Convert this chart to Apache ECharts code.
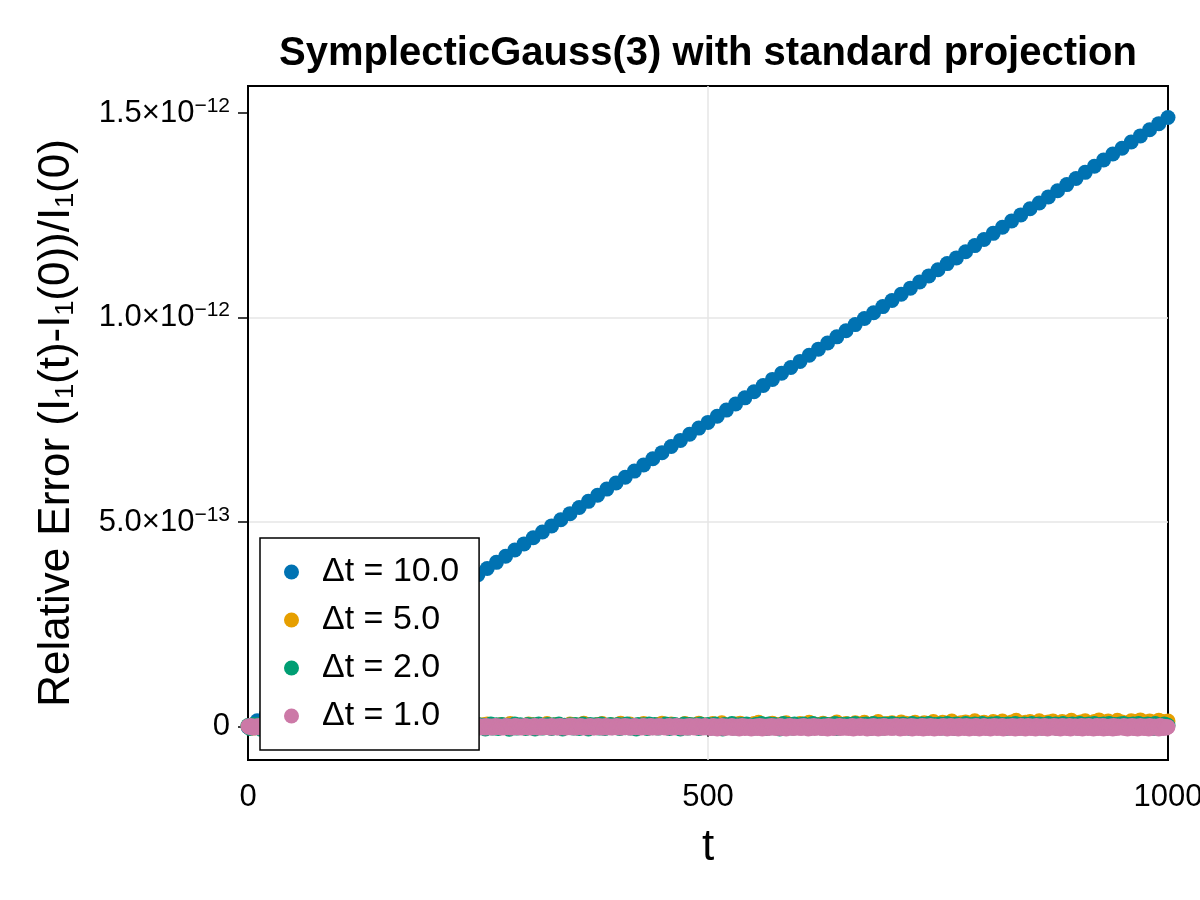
<!DOCTYPE html>
<html lang="en">
<head>
    <meta charset="UTF-8">
    <title>SymplecticGauss(3) projection error</title>
    <script src="https://cdn.jsdelivr.net/npm/echarts@6.0.0/dist/echarts.min.js"></script>
    <style>
        body { margin: 0; background: #fff; }
    </style>
</head>
<body>
    <div id="chart" style="width: 1200px; height: 900px;"></div>
    <script type="text/javascript">
        // relative error values are stored in units of 1e-15
        const seriesNames = ['Δt = 10.0', 'Δt = 5.0', 'Δt = 2.0', 'Δt = 1.0'];
        const stepSizes = [10, 5, 2, 1];
        const colors = ['#0072B2', '#E69F00', '#009E73', '#CC79A7'];

        const err10 = [
            0, 15, 30, 45, 60, 74, 89, 104, 119, 134, 149, 164, 179, 194, 208, 223, 238, 253, 268, 283,
            298, 313, 328, 342, 357, 372, 387, 402, 417, 432, 447, 462, 476, 491, 506, 521, 536, 551, 566, 581,
            596, 610, 625, 640, 655, 670, 685, 700, 715, 730, 744, 759, 774, 789, 804, 819, 834, 849, 864, 878,
            893, 908, 923, 938, 953, 968, 983, 998, 1012, 1027, 1042, 1057, 1072, 1087, 1102, 1117, 1132, 1146, 1161, 1176,
            1191, 1206, 1221, 1236, 1251, 1266, 1280, 1295, 1310, 1325, 1340, 1355, 1370, 1385, 1400, 1414, 1429, 1444, 1459, 1474,
            1489
        ];

        const err5 = [
            2,-3,4,1,-1,5,0,3,-2,6,1,-4,3,5,0,-2,4,2,-1,6,3,0,-3,5,2,
            4,-1,6,2,0,5,-3,3,7,1,-2,4,6,0,3,-1,7,2,5,-2,4,8,1,3,6,
            0,5,7,2,-1,6,4,8,1,3,-2,7,5,0,4,8,2,6,-1,3,7,5,1,9,4,
            2,6,8,0,5,3,9,-1,7,4,2,8,6,1,5,9,3,7,0,4,8,6,2,9,5,
            3,8,6,10,1,5,7,9,2,4,8,11,6,3,9,5,7,10,2,6,8,4,11,7,5,
            9,3,7,12,6,8,4,10,7,11,5,9,13,6,8,10,4,12,9,7,11,5,10,8,13,
            7,11,9,14,6,10,12,8,15,9,11,7,13,10,14,8,12,16,9,11,13,7,15,10,12,
            14,9,13,11,16,10,12,15,8,13,17,11,14,10,16,12,9,15,13,17,11,14,12,16,13,
            14
        ];

        const err2 = [
            3,-4,1,6,-2,0,5,-6,2,-1,4,-3,0,7,-5,1,3,-2,6,-4,0,2,-6,5,-1,
            1,-3,4,0,-5,6,-2,3,-1,5,-4,0,2,-6,4,1,-3,6,-1,0,3,-5,2,5,-2,
            0,4,-3,6,-1,2,-5,3,0,7,-2,-4,4,1,-6,5,0,-2,3,6,-4,1,-1,5,-3,
            2,-5,6,0,-2,4,-4,7,1,-3,3,0,-6,5,2,-1,4,-5,0,6,-2,3,-4,1,5,
            -1,6,-3,2,4,-6,0,5,-2,3,-4,7,1,-1,4,-5,2,6,-3,0,5,-2,-4,3,1,
            6,-2,0,4,-5,3,1,7,-3,-1,5,-4,2,6,0,-2,4,-6,3,1,7,-3,0,5,-1,
            2,-4,6,1,-2,5,-5,3,7,0,-3,4,-1,6,2,-4,5,0,-2,7,1,-5,4,3,-1,
            5,0,-3,6,2,-4,4,7,-1,1,-5,6,3,-2,5,0,-3,7,2,-4,4,1,6,-2,0,
            3,6,-4,1,5,-2,7,0,-3,4,2,-5,6,1,-1,5,3,-4,7,0,-2,6,2,-3,4,
            1,-1,7,3,-4,5,0,6,-2,2,-5,4,7,1,-3,6,0,-1,5,3,-4,7,2,0,-2,
            6,1,-3,5,7,-2,3,0,-5,6,4,-1,2,8,-3,5,1,-4,6,3,0,7,-2,4,1,
            -3,6,5,0,8,-1,3,-4,7,2,-2,6,4,0,-5,5,8,1,-1,6,3,-3,7,2,0,
            5,-2,7,4,1,-4,6,8,0,-1,5,3,-3,7,2,6,-2,4,1,8,-4,5,0,6,3,
            -1,7,2,5,-3,8,1,4,-2,6,0,7,3,-4,5,8,1,-1,6,4,-3,7,2,5,0,
            8,-2,4,6,1,-3,7,5,0,3,-4,8,2,6,-1,4,7,0,-3,5,8,2,-2,6,4,
            1,7,-3,5,3,8,-1,6,2,-4,7,4,0,5,-2,8,3,6,-1,1,7,-3,5,4,8,
            0,6,2,-3,7,5,1,8,-2,4,6,0,-4,7,3,5,-1,8,2,6,-3,4,7,1,5,
            -2,8,3,6,0,7,-3,5,4,1,8,-1,6,2,7,-4,5,3,8,0,6,-2,4,7,1,
            5,-3,8,2,6,4,-1,7,0,5,8,-2,3,6,1,7,-4,5,8,2,-1,6,4,0,7,
            3,8,-2,6,5,1,7,-3,4,8,0,6,2,-1,7,5,3,-4,8,6,1,4,-2,7,5,
            3
        ];

        const err1 = [
            2,-1,0,3,-2,1,-3,0,2,-1,1,-2,3,0,-1,2,-3,1,0,-2,2,1,-1,0,3,
            -2,0,1,-3,2,-1,0,3,-2,1,-1,2,0,-3,1,2,-1,0,-2,3,1,-1,0,2,-3,
            1,0,-2,2,-1,3,0,-1,1,-3,2,0,-2,1,3,-1,0,2,-2,1,-1,0,3,-2,1,
            0,-1,2,-3,1,0,2,-2,3,-1,0,1,-2,2,-1,3,0,-3,1,-1,2,0,-2,1,3,
            -1,2,0,-2,1,-3,3,0,-1,2,1,-2,0,3,-1,-2,1,0,2,-3,1,-1,3,0,-2,
            2,-2,1,0,-1,3,-3,1,2,0,-1,-2,3,1,0,-3,2,-1,1,0,-2,3,-1,2,0,
            -3,1,0,2,-1,1,-2,3,0,-1,2,-3,1,0,2,-2,-1,3,1,0,-2,2,-1,1,-3,
            0,2,-1,3,-2,0,1,-1,2,-3,3,0,-2,1,-1,2,0,-3,1,2,-1,0,-2,3,1,
            -2,1,3,-1,0,-3,2,1,-2,0,1,3,-1,-2,2,0,-3,1,0,2,-1,3,-2,0,1,
            1,-3,2,0,-1,2,-2,1,3,-1,0,-2,1,2,-3,0,3,-1,1,-2,0,2,-1,1,-3,
            3,0,-2,1,-1,2,0,-3,1,3,-2,0,1,-1,2,-3,0,1,-2,3,1,-1,0,2,-2,
            0,1,-3,2,-1,0,3,-2,1,-1,2,0,-3,1,2,-1,3,0,-2,1,-1,2,-3,0,1,
            -1,3,0,-2,2,-1,1,-3,0,2,1,-2,3,-1,0,1,-3,2,0,-1,3,-2,1,0,-1,
            2,-1,0,1,-3,3,0,-2,1,-1,2,0,-3,1,3,-2,-1,2,0,1,-3,2,-1,0,3,
            -2,1,-1,3,0,-3,2,1,-2,0,-1,3,1,-2,2,0,-3,1,-1,2,0,-2,3,1,-1,
            0,-3,2,1,-1,0,3,-2,1,-1,2,-3,0,1,3,-2,0,-1,2,1,-3,0,2,-1,1,
            -2,3,0,-1,1,-3,2,0,-2,1,3,-1,0,-2,2,1,-3,0,1,-1,3,-2,0,2,-1,
            1,0,-3,2,-1,3,-2,0,1,-1,2,0,-3,3,1,-2,0,-1,2,-3,1,0,3,-2,-1,
            2,-1,1,0,-3,2,1,-2,3,0,-1,1,-3,2,0,-2,3,-1,1,0,-2,2,-3,1,0,
            -1,2,0,-3,1,3,-2,0,-1,2,1,-3,0,3,-1,1,-2,2,0,-3,1,-1,3,0,-2,
            1,-2,0,-4,2,-1,3,-3,0,1,-5,2,-1,0,-3,3,-2,1,-4,0,2,-1,-3,1,0,
            -2,3,-4,0,1,-1,-3,2,0,-5,1,-2,3,-1,0,-4,2,-3,1,0,-2,2,-5,1,-1,
            0,-3,2,-1,-4,1,3,-2,0,-5,2,-1,1,-3,0,2,-4,1,-2,3,-1,0,-3,2,-4,
            1,-2,0,3,-4,-1,2,-3,1,0,-5,2,-1,-3,3,0,-2,1,-4,2,-1,0,-3,1,-2,
            2,-4,0,-1,3,-3,1,-2,0,-5,2,1,-3,0,-1,3,-4,1,-2,0,2,-3,-1,1,-4,
            0,2,-3,-1,1,-5,3,-2,0,-1,2,-4,1,0,-3,2,-2,-1,3,-4,0,1,-3,2,-1,
            -3,1,0,-4,2,-1,-2,3,-5,0,1,-3,2,-1,0,-4,3,-2,1,-1,-3,2,0,-5,1,
            -1,2,-3,0,-4,3,-2,1,-1,0,-5,2,-3,1,0,-2,3,-4,-1,2,0,-3,1,-2,2,
            -4,0,1,-2,3,-3,-1,2,0,-5,1,-2,3,-1,-4,0,2,-3,1,-1,-2,3,-5,0,1,
            2,-3,0,-1,-4,2,1,-2,3,-5,0,-1,2,-3,1,-4,0,3,-2,-1,1,-5,2,0,-3,
            0,1,-4,2,-2,-1,3,-3,0,1,-5,2,-1,-2,3,0,-4,1,-3,2,-1,0,-5,3,-2,
            1,-3,2,0,-4,-1,3,-2,1,-5,0,2,-3,-1,1,-4,3,0,-2,2,-5,1,-1,0,-3,
            3,-2,-4,1,0,-1,2,-5,-3,1,0,3,-2,-1,-4,2,0,-3,1,-2,3,-5,0,1,-1,
            -2,2,0,-4,1,-3,3,-1,0,-5,2,-2,1,-4,0,3,-1,-3,2,0,-5,1,-2,3,-1,
            0,-4,2,-1,1,-3,-5,3,0,-2,1,-1,2,-4,0,-3,3,1,-2,-5,0,2,-1,-3,1,
            -1,3,-3,0,-4,2,-2,1,-5,0,3,-1,-3,2,1,-4,0,-2,3,-5,1,0,-1,2,-3,
            2,-1,-4,0,1,-3,3,-5,-2,0,2,-1,1,-4,3,-3,0,-2,1,-5,2,0,-1,3,-4,
            -3,1,0,-2,3,-5,-1,2,0,-4,1,-3,2,-1,0,-5,3,-2,1,-4,0,2,-3,-1,1,
            0,-2,3,-4,1,-1,-5,2,0,-3,1,3,-2,-4,0,2,-1,-5,1,-3,3,0,-2,1,-4,
            2,-3,0,-1,-5,3,1,-4,0,-2,2,-1,-3,1,0,-5,3,-2,-1,2,-4,0,1,-3,-1,
            0
        ];

        const xTicks = [0, 500, 1000];
        const yTickValues = [0, 500, 1000, 1500];
        const yTickMantissa = ['0', '5.0×10', '1.0×10', '1.5×10'];
        const yTickExponent = ['', '−13', '−12', '−12'];

        const allErrors = [err10, err5, err2, err1];

        const FONT = '"Liberation Sans", Arial, sans-serif';

        let chart = echarts.init(document.getElementById('chart'), null, { renderer: 'canvas' });

        chart.setOption({
            animation: false,
            backgroundColor: '#ffffff',
            textStyle: { fontFamily: FONT, color: '#000' },
            title: {
                text: 'SymplecticGauss(3) with standard projection',
                left: 708,
                textAlign: 'center',
                top: 34,
                padding: 0,
                textStyle: { fontFamily: FONT, fontSize: 40, fontWeight: 'bold', color: '#000' }
            },
            grid: {
                left: 248, right: 32, top: 86, bottom: 140,
                show: true, borderColor: '#000', borderWidth: 2,
                containLabel: false,
                outerBoundsMode: 'none'
            },
            legend: {
                orient: 'vertical',
                left: 260, top: 538,
                data: seriesNames,
                icon: 'circle',
                itemWidth: 15, itemHeight: 15,
                itemGap: 12,
                padding: [16, 20, 16, 24],
                backgroundColor: '#fff',
                borderColor: '#000',
                borderWidth: 1.5,
                textStyle: { fontFamily: FONT, fontSize: 34, lineHeight: 36, color: '#000', padding: [0, 0, 0, 18] }
            },
            xAxis: {
                type: 'value',
                min: 0, max: 1000, interval: 500,
                name: 't',
                nameLocation: 'middle',
                nameGap: 66,
                nameTextStyle: { fontFamily: FONT, fontSize: 44, color: '#000' },
                axisLine: { show: true, lineStyle: { color: '#000', width: 2 } },
                axisTick: { show: true, length: 10, lineStyle: { color: '#000', width: 1.5 } },
                axisLabel: {
                    fontFamily: FONT, fontSize: 31, color: '#000', margin: 22,
                    formatter: v => xTicks.indexOf(v) >= 0 ? String(v) : ''
                },
                splitLine: { show: true, showMinLine: false, showMaxLine: false, lineStyle: { color: '#e6e6e6', width: 1.5 } }
            },
            yAxis: {
                type: 'value',
                min: -81, max: 1566, splitNumber: 3,
                name: 'Relative Error (I₁(t)-I₁(0))/I₁(0)',
                nameLocation: 'middle',
                nameGap: 169,
                nameTextStyle: { fontFamily: FONT, fontSize: 44, color: '#000' },
                axisLine: { show: true, lineStyle: { color: '#000', width: 2 } },
                axisTick: { show: true, length: 10, customValues: yTickValues, lineStyle: { color: '#000', width: 1.5 } },
                axisLabel: {
                    customValues: yTickValues,
                    margin: 18,
                    formatter: v => {
                        const i = yTickValues.indexOf(v);
                        if (i < 0) return '';
                        return yTickExponent[i]
                            ? '{m|' + yTickMantissa[i] + '}{e|' + yTickExponent[i] + '}'
                            : '{m|' + yTickMantissa[i] + '}';
                    },
                    rich: {
                        m: { fontFamily: FONT, fontSize: 31, color: '#000' },
                        e: { fontFamily: FONT, fontSize: 21, color: '#000', padding: [0, 0, 14, 0] }
                    }
                },
                splitLine: { show: true, showMinLine: false, showMaxLine: false, lineStyle: { color: '#e6e6e6', width: 1.5 } }
            },
            series: allErrors.map((vals, k) => ({
                type: 'scatter',
                name: seriesNames[k],
                symbol: 'circle',
                symbolSize: 15,
                itemStyle: { color: colors[k], opacity: 1 },
                emphasis: { disabled: true },
                data: vals.map((v, i) => [i * stepSizes[k], v])
            }))
        });
    </script>
</body>
</html>
